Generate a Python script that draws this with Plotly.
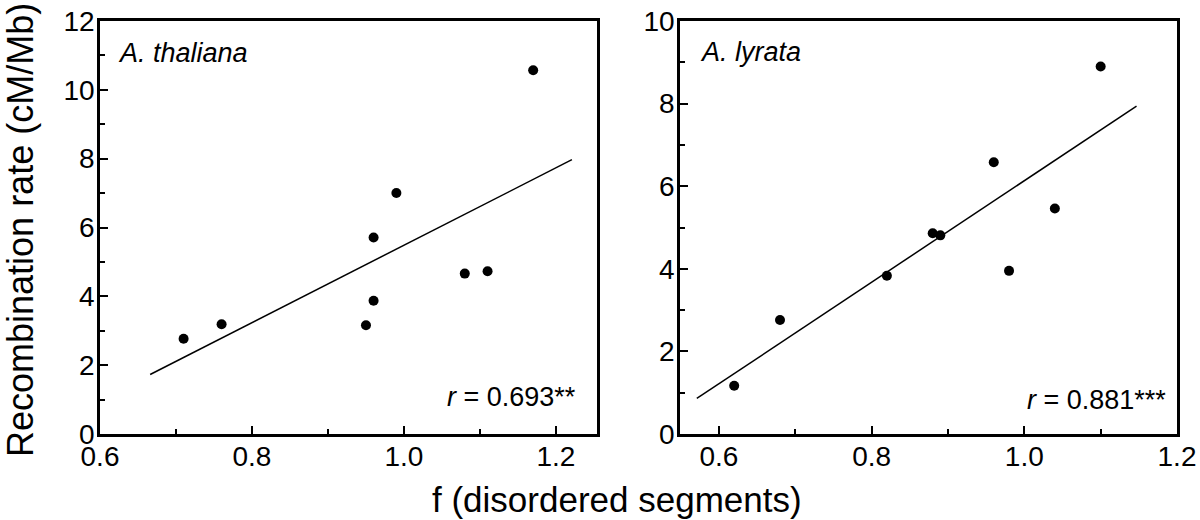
import plotly.graph_objects as go

# ---- data ----
thal_x = [0.71, 0.76, 0.95, 0.96, 0.96, 0.99, 1.08, 1.11, 1.17]
thal_y = [2.77, 3.19, 3.16, 3.87, 5.71, 7.00, 4.66, 4.73, 10.57]
thal_fit_x = [0.666, 1.221]
thal_fit_y = [1.73, 7.97]

lyr_x = [0.62, 0.68, 0.82, 0.88, 0.89, 0.96, 0.98, 1.04, 1.10]
lyr_y = [1.17, 2.76, 3.83, 4.86, 4.81, 6.58, 3.95, 5.46, 8.90]
lyr_fit_x = [0.571, 1.147]
lyr_fit_y = [0.86, 7.94]

panel_names = ["A. thaliana", "A. lyrata"]
r_labels = ["<i>r</i> = 0.693**", "<i>r</i> = 0.881***"]
x_tick_vals = [0.6, 0.8, 1.0, 1.2]
x_tick_text = ["0.6", "0.8", "1.0", "1.2"]
y_ticks_left = [0, 2, 4, 6, 8, 10, 12]
y_ticks_right = [0, 2, 4, 6, 8, 10]
y_title = "Recombination rate (cM/Mb)"
x_title = "f (disordered segments)"

FONT = "Liberation Sans, Arial, Helvetica, sans-serif"
W, H = 1200, 520

fig = go.Figure()
fig.add_trace(go.Scatter(x=thal_x, y=thal_y, mode="markers",
                         marker=dict(color="black", size=10), xaxis="x", yaxis="y"))
fig.add_trace(go.Scatter(x=thal_fit_x, y=thal_fit_y, mode="lines",
                         line=dict(color="black", width=1.5), xaxis="x", yaxis="y"))
fig.add_trace(go.Scatter(x=lyr_x, y=lyr_y, mode="markers",
                         marker=dict(color="black", size=10), xaxis="x2", yaxis="y2"))
fig.add_trace(go.Scatter(x=lyr_fit_x, y=lyr_fit_y, mode="lines",
                         line=dict(color="black", width=1.5), xaxis="x2", yaxis="y2"))

ydom = [86 / H, (H - 21) / H]

def xaxis(domain, rng, anchor):
    return dict(domain=domain, range=rng, anchor=anchor, tickvals=x_tick_vals, ticktext=x_tick_text,
                ticks="inside", ticklen=8, tickwidth=2, tickcolor="black",
                minor=dict(tickvals=[0.7, 0.9, 1.1], ticks="inside", ticklen=5, tickwidth=2, tickcolor="black"),
                showline=True, linewidth=2.5, linecolor="black", mirror=True, automargin=False,
                showgrid=False, zeroline=False, tickfont=dict(size=28, color="black", family=FONT),
                ticklabelstandoff=-4)

def yaxis(rng, ticks, minor, anchor):
    return dict(domain=ydom, range=rng, anchor=anchor, tickvals=ticks,
                ticks="inside", ticklen=8, tickwidth=2, tickcolor="black",
                minor=dict(tickvals=minor, ticks="inside", ticklen=5, tickwidth=2, tickcolor="black"),
                showline=True, linewidth=2.5, linecolor="black", mirror=True, automargin=False,
                showgrid=False, zeroline=False, tickfont=dict(size=28, color="black", family=FONT),
                ticklabelstandoff=-3)

fig.update_layout(
    width=W, height=H, margin=dict(l=0, r=0, t=0, b=0),
    paper_bgcolor="white", plot_bgcolor="white", showlegend=False,
    font=dict(family=FONT, color="black"),
    xaxis=xaxis([100 / W, 597 / W], [0.6, 1.254], "y"),
    yaxis=yaxis([0, 12], y_ticks_left, [1, 3, 5, 7, 9, 11], "x"),
    xaxis2=xaxis([680 / W, 1177 / W], [0.549, 1.2], "y2"),
    yaxis2=yaxis([0, 10], y_ticks_right, [1, 3, 5, 7, 9], "x2"),
)

def ann(text, x, y, xanchor, size, angle=0, italic=False):
    fig.add_annotation(text=text, x=x / W, y=(H - y) / H, xref="paper", yref="paper",
                       xanchor=xanchor, yanchor="middle", showarrow=False, textangle=angle,
                       font=dict(size=size, color="black", family=FONT,
                                 style="italic" if italic else "normal"))

ann(panel_names[0], 116, 53, "left", 27, italic=True)
ann(panel_names[1], 698, 52, "left", 27, italic=True)
ann(r_labels[0], 578, 397, "right", 27)
ann(r_labels[1], 1168, 400, "right", 27)
ann(x_title, 617, 499, "center", 35)
ann(y_title, 20, 230, "center", 36, angle=-90)

fig.write_html("out.html", config={"displayModeBar": False},
               post_script="document.body.style.margin='0';document.body.style.overflow='hidden';")
